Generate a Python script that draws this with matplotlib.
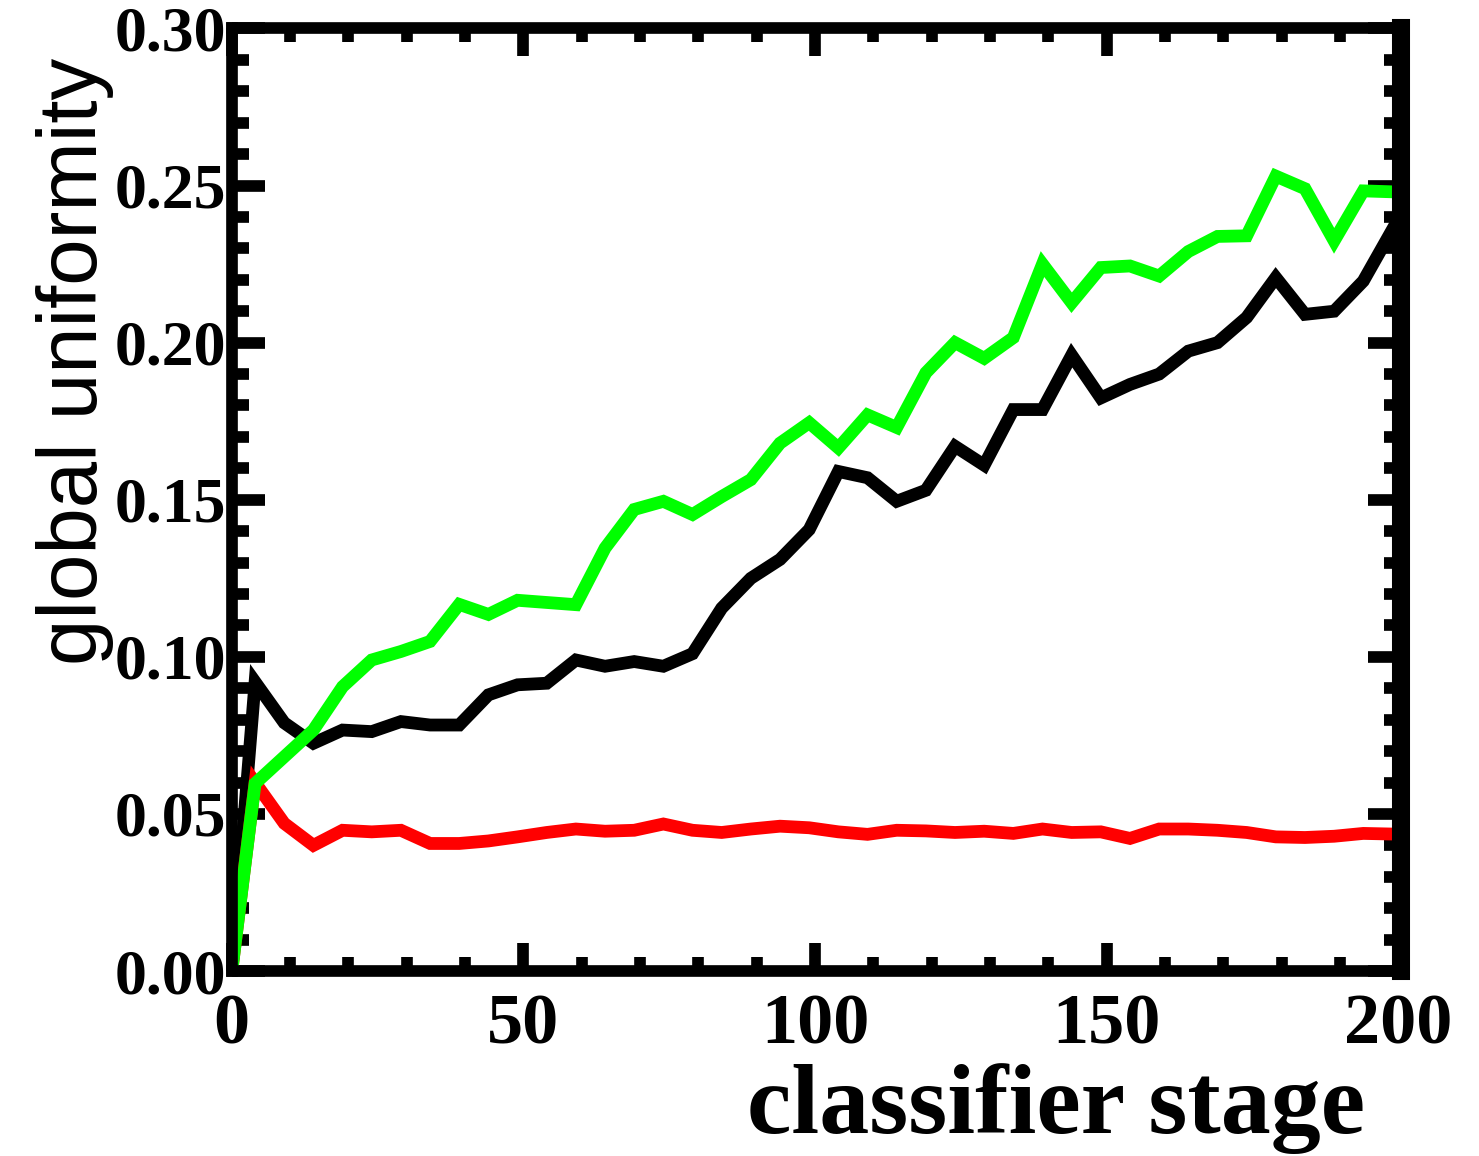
import matplotlib
matplotlib.use("Agg")
import matplotlib.pyplot as plt
from matplotlib.ticker import MultipleLocator, FormatStrFormatter

# classifier stages (first point at 0, then every 5 stages)
stages = [0] + [4 + 5 * k for k in range(40)]

uniformity_black = [
    0.0, 0.092, 0.079, 0.0725, 0.0767, 0.0762, 0.0794, 0.0783, 0.0783, 0.0879,
    0.0911, 0.0916, 0.099, 0.097, 0.0985, 0.097, 0.101, 0.1155, 0.125, 0.131,
    0.1405, 0.159, 0.157, 0.1495, 0.153, 0.167, 0.161, 0.1787, 0.1787, 0.196,
    0.1824, 0.1867, 0.190, 0.1973, 0.200, 0.208, 0.2207, 0.209, 0.210, 0.2196,
    0.236,
]
uniformity_green = [
    0.0, 0.0597, 0.0682, 0.0767, 0.0905, 0.099, 0.1017, 0.1049, 0.1167, 0.1135,
    0.118, 0.1173, 0.1166, 0.1346, 0.1469, 0.1495, 0.1453, 0.151, 0.1564, 0.168,
    0.1745, 0.1665, 0.177, 0.173, 0.1904, 0.200, 0.195, 0.2016, 0.225, 0.2127,
    0.2239, 0.2244, 0.2212, 0.229, 0.2338, 0.234, 0.253, 0.249, 0.2324, 0.2483,
    0.248,
]
uniformity_red = [
    0.0, 0.060, 0.047, 0.040, 0.0448, 0.0443, 0.0448, 0.0406, 0.0406, 0.0414,
    0.0427, 0.0441, 0.0452, 0.0445, 0.0448, 0.0468, 0.0448, 0.0441, 0.0452, 0.0461,
    0.0456, 0.0443, 0.0435, 0.0448, 0.0446, 0.0441, 0.0445, 0.0438, 0.0452, 0.0441,
    0.0443, 0.0422, 0.0452, 0.0452, 0.0448, 0.0441, 0.0427, 0.0425, 0.0429, 0.0438,
    0.0436,
]

fig = plt.figure(figsize=(14.79, 11.56), dpi=100)
ax = fig.add_axes([0.1567, 0.160, 0.7907, 0.8154])

lw = 9.2
ax.plot(stages, uniformity_black, color="black", lw=lw, solid_joinstyle="miter")
ax.plot(stages, uniformity_red, color="#ff0000", lw=lw, solid_joinstyle="miter")
ax.plot(stages, uniformity_green, color="#00ff00", lw=lw, solid_joinstyle="miter")

ax.set_xlim(0, 200.5)
ax.set_ylim(0, 0.30)

for side in ["left", "bottom", "top"]:
    ax.spines[side].set_linewidth(8.4)
ax.spines["right"].set_linewidth(13)

ax.xaxis.set_major_locator(MultipleLocator(50))
ax.xaxis.set_minor_locator(MultipleLocator(10))
ax.yaxis.set_major_locator(MultipleLocator(0.05))
ax.yaxis.set_minor_locator(MultipleLocator(0.01))
ax.yaxis.set_major_formatter(FormatStrFormatter("%.2f"))

ax.tick_params(axis="x", which="major", direction="in", top=True, length=20, width=8.4, pad=16)
ax.tick_params(axis="x", which="minor", direction="in", top=True, length=10, width=8.4)
ax.tick_params(axis="y", which="major", direction="in", right=True, length=24, width=8.4, pad=4)
ax.tick_params(axis="y", which="minor", direction="in", right=True, length=12.5, width=8.4)

for lab in ax.get_xticklabels():
    lab.set_fontfamily("Liberation Serif")
    lab.set_fontweight("bold")
    lab.set_fontsize(52)
for lab in ax.get_yticklabels():
    lab.set_fontfamily("Liberation Serif")
    lab.set_fontweight("bold")
    lab.set_fontsize(46)

fig.text(0.923, 0.020, "classifier stage", ha="right", va="baseline",
         fontfamily="Liberation Serif", fontweight="bold", fontsize=72)
fig.text(0.051, 0.687, "global uniformity", ha="center", va="center", rotation=90,
         fontfamily="Liberation Sans", fontsize=60)

fig.savefig("out.png", dpi=100)
